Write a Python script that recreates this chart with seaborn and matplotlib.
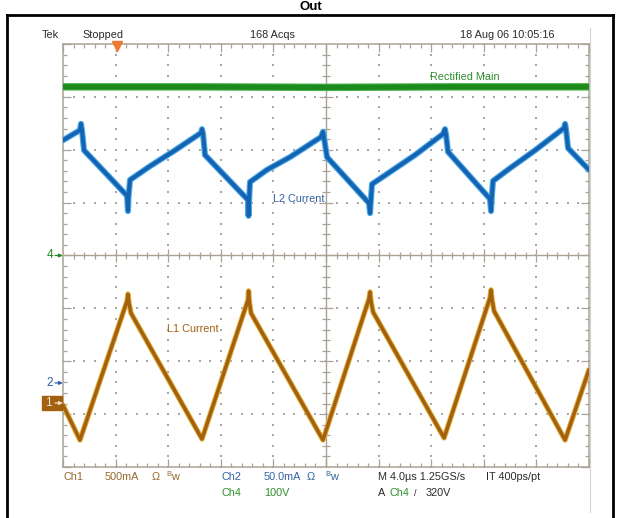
import numpy as np
import pandas as pd
import matplotlib
matplotlib.use("Agg")
import matplotlib.pyplot as plt
from matplotlib import patheffects as pe
from matplotlib.patches import Rectangle
from matplotlib.ticker import MultipleLocator
import seaborn as sns

# ---- acquisition record (time in µs, 4 µs/div; level in screen divisions from centre) ----
main_time = [0.0, 10.0, 20.0, 30.0, 40.0]
main_level = [3.19, 3.19, 3.18, 3.19, 3.19]

l2_time = [0.00, 1.29, 1.37, 1.45, 1.60, 4.87, 4.94, 4.98, 5.10, 6.62, 8.52,
           10.50, 10.57, 10.65, 10.80, 14.07, 14.11, 14.15, 14.22, 15.51, 17.26,
           19.62, 19.77, 19.85, 20.08, 23.27, 23.35, 23.39, 23.50, 24.87, 26.77,
           28.90, 29.05, 29.13, 29.28, 32.47, 32.55, 32.59, 32.70, 33.99, 35.90,
           38.10, 38.18, 38.25, 38.41, 40.00]
l2_level = [2.18, 2.37, 2.49, 2.35, 1.99, 1.13, 0.84, 1.11, 1.43, 1.69, 1.99,
            2.32, 2.39, 2.30, 1.90, 1.05, 0.75, 1.03, 1.39, 1.62, 1.86,
            2.24, 2.34, 2.22, 1.86, 0.99, 0.80, 0.97, 1.35, 1.58, 1.90,
            2.30, 2.39, 2.28, 1.96, 1.07, 0.84, 1.05, 1.41, 1.65, 1.99,
            2.41, 2.49, 2.39, 2.03, 1.62]

l1_time = [0.00, 1.29, 4.87, 4.94, 5.02, 5.17, 10.57, 14.07, 14.11, 14.18, 14.30,
           19.77, 23.27, 23.35, 23.42, 23.58, 28.98, 32.47, 32.55, 32.63, 32.78,
           38.18, 40.00]
l1_level = [-2.83, -3.49, -0.86, -0.73, -0.90, -1.09, -3.47, -0.84, -0.67, -0.88, -1.09,
            -3.49, -0.82, -0.69, -0.86, -1.07, -3.45, -0.80, -0.65, -0.84, -1.05,
            -3.49, -2.16]

# channel ground markers and trigger position
marker_names = ["4", "2", "1"]
marker_levels = [0.0, -2.41, -2.79]
trigger_time = 4.11

header_labels = ["Tek", "Stopped", "168 Acqs", "18 Aug 06 10:05:16"]

# ---- colours ----
GRID = "#aaa395"
DOT = "#a8a8a8"
GREEN = "#1c8a1c"
BLUE = "#1463b2"
BROWN = "#a3600f"
TXT = "#2a2a2a"
CH1_TXT = "#98672c"
CH2_TXT = "#33619e"
CH4_TXT = "#2f8f2f"

sns.set_theme(style="white")
plt.rcParams["font.family"] = ["Liberation Sans", "DejaVu Sans"]

W, H = 622, 518
fig = plt.figure(figsize=(W / 100, H / 100), dpi=100)
fig.patch.set_facecolor("white")


def fx(px):
    return px / W


def fy(py):
    return 1 - py / H


# scope screen
ax = fig.add_axes([fx(63), fy(467), (589 - 63) / W, (467 - 44) / H])
ax.set_facecolor("white")
ax.set_xlim(0, 40)
ax.set_ylim(-4, 4)
for s in ax.spines.values():
    s.set_color(GRID)
    s.set_linewidth(1.1)
ax.xaxis.set_major_locator(MultipleLocator(4))
ax.xaxis.set_minor_locator(MultipleLocator(0.8))
ax.yaxis.set_major_locator(MultipleLocator(1))
ax.yaxis.set_minor_locator(MultipleLocator(0.2))
ax.tick_params(which="both", direction="in", top=True, right=True, bottom=True, left=True,
               labelbottom=False, labelleft=False, color=GRID, width=0.9)
ax.tick_params(which="major", length=5.5)
ax.tick_params(which="minor", length=3.0)

# centre cross with fine ticks
ax.axhline(0, color=GRID, lw=1.0, zorder=1)
ax.axvline(20, color=GRID, lw=1.0, zorder=1)
cx = np.arange(0.8, 40, 0.8)
cx_major = np.isclose(cx % 4, 0) | np.isclose(cx % 4, 4)
ax.vlines(cx[~cx_major], -0.075, 0.075, color=GRID, lw=0.9, zorder=1)
ax.vlines(cx[cx_major], -0.13, 0.13, color=GRID, lw=0.9, zorder=1)
cy = np.arange(-3.8, 4, 0.2)
cy_major = np.isclose(np.round(cy, 3) % 1, 0) | np.isclose(np.round(cy, 3) % 1, 1)
ax.hlines(cy[~cy_major], 20 - 0.3, 20 + 0.3, color=GRID, lw=0.9, zorder=1)
ax.hlines(cy[cy_major], 20 - 0.53, 20 + 0.53, color=GRID, lw=0.9, zorder=1)

# dotted graticule
dx, dy = [], []
for gx in [4, 8, 12, 16, 24, 28, 32, 36]:
    ys = np.arange(-4, 4.01, 0.2)
    dx += [gx] * len(ys)
    dy += list(ys)
for gy in [-3, -2, -1, 1, 2, 3]:
    xs = np.arange(0, 40.01, 0.8)
    dx += list(xs)
    dy += [gy] * len(xs)
ax.scatter(dx, dy, s=1.2, color=DOT, marker="s", linewidths=0, zorder=1)

# traces
df_main = pd.DataFrame({"t": main_time, "level": main_level})
df_l2 = pd.DataFrame({"t": l2_time, "level": l2_level})
df_l1 = pd.DataFrame({"t": l1_time, "level": l1_level})

sns.lineplot(data=df_main, x="t", y="level", sort=False, estimator=None, ax=ax,
             color=GREEN, lw=3.8, zorder=3,
             path_effects=[pe.Stroke(linewidth=5.4, foreground="#49b249"), pe.Normal()])
sns.lineplot(data=df_l2, x="t", y="level", sort=False, estimator=None, ax=ax,
             color=BLUE, lw=2.8, zorder=3,
             path_effects=[pe.Stroke(linewidth=4.4, foreground="#49a8e6"), pe.Normal()])
sns.lineplot(data=df_l1, x="t", y="level", sort=False, estimator=None, ax=ax,
             color=BROWN, lw=2.5, zorder=3,
             path_effects=[pe.Stroke(linewidth=3.9, foreground="#e2b440"), pe.Normal()])
ax.set_xlabel("")
ax.set_ylabel("")

# trace labels
lab_fs = 7.8
ax.text(27.9, 3.37, "Rectified Main", color=CH4_TXT, fontsize=lab_fs, va="center", ha="left")
ax.text(19.85, 1.07, "L2 Current", color=CH2_TXT, fontsize=lab_fs, va="center", ha="right")
ax.text(7.9, -1.39, "L1 Current", color=BROWN, fontsize=lab_fs, va="center", ha="left")

# ground markers at the left edge
mcolors = [GREEN, "#2a5fa8", BROWN]
for name, lev, c in zip(marker_names, marker_levels, mcolors):
    if name == "1":
        ax.add_patch(Rectangle((-1.6, lev - 0.135), 1.55, 0.27, color=c, clip_on=False, zorder=4))
        ax.text(-1.15, lev, name, color="#f4e4d0", fontsize=8.5, va="center", ha="center",
                clip_on=False, zorder=5)
        acol = "#f4e4d0"
    else:
        ax.text(-0.75, lev, name, color=c, fontsize=8.5, va="center", ha="right", clip_on=False)
        acol = c
    ax.annotate("", xy=(-0.02, lev), xytext=(-0.6, lev), annotation_clip=False, zorder=5,
                arrowprops=dict(arrowstyle="-|>", color=acol, lw=0.9, mutation_scale=5,
                                shrinkA=0, shrinkB=0))

# trigger position marker
ax.plot([trigger_time], [3.97], marker="v", ms=6.5, color="#f07830", mec="#f07830",
        clip_on=False, zorder=5)

# header line
hdr_fs = 7.8
for label, px in zip(header_labels, [42, 82, 250, 460]):
    fig.text(fx(px), fy(35), label, color=TXT, fontsize=hdr_fs, va="center", ha="left")

# status lines below the screen
row1, row2 = 477, 493
fig.text(fx(63), fy(row1), "Ch1", color=CH1_TXT, fontsize=hdr_fs, va="center")
fig.text(fx(105), fy(row1), "500mA", color=CH1_TXT, fontsize=hdr_fs, va="center")
fig.text(fx(152), fy(row1), "Ω", color=CH1_TXT, fontsize=hdr_fs, va="center")
fig.text(fx(166), fy(row1 - 2), "B", color=CH1_TXT, fontsize=5.5, va="center")
fig.text(fx(171), fy(row1), "w", color=CH1_TXT, fontsize=hdr_fs, va="center")
fig.text(fx(222), fy(row1), "Ch2", color=CH2_TXT, fontsize=hdr_fs, va="center")
fig.text(fx(264), fy(row1), "50.0mA", color=CH2_TXT, fontsize=hdr_fs, va="center")
fig.text(fx(307), fy(row1), "Ω", color=CH2_TXT, fontsize=hdr_fs, va="center")
fig.text(fx(325), fy(row1 - 2), "B", color=CH2_TXT, fontsize=5.5, va="center")
fig.text(fx(330), fy(row1), "w", color=CH2_TXT, fontsize=hdr_fs, va="center")
fig.text(fx(378), fy(row1), "M 4.0µs 1.25GS/s", color=TXT, fontsize=hdr_fs, va="center")
fig.text(fx(486), fy(row1), "IT 400ps/pt", color=TXT, fontsize=hdr_fs, va="center")
fig.text(fx(222), fy(row2), "Ch4", color=CH4_TXT, fontsize=hdr_fs, va="center")
fig.text(fx(264), fy(row2), "100V", color=CH4_TXT, fontsize=hdr_fs, va="center")
fig.text(fx(378), fy(row2), "A", color=TXT, fontsize=hdr_fs, va="center")
fig.text(fx(389), fy(row2), "Ch4", color=CH4_TXT, fontsize=hdr_fs, va="center")
fig.text(fx(414), fy(row2), "/", color=TXT, fontsize=6.5, va="center")
fig.text(fx(426), fy(row2), "320V", color=TXT, fontsize=hdr_fs, va="center")

# screen edge and page frame
fig.add_artist(plt.Line2D([fx(590), fx(590)], [fy(28), fy(512)], color="#d4d4d4", lw=0.8))
frame = dict(color="black", lw=2.0, solid_capstyle="projecting")
fig.add_artist(plt.Line2D([fx(7), fx(7)], [fy(15), fy(518)], **frame))
fig.add_artist(plt.Line2D([fx(613), fx(613)], [fy(15), fy(518)], **frame))
fig.add_artist(plt.Line2D([fx(7), fx(613)], [fy(15), fy(15)], **frame))
fig.text(fx(300), fy(12.5), "Out", color="black", fontsize=9.5, fontweight="bold",
         va="bottom", ha="left")

fig.savefig("out.png", dpi=100, facecolor="white")
